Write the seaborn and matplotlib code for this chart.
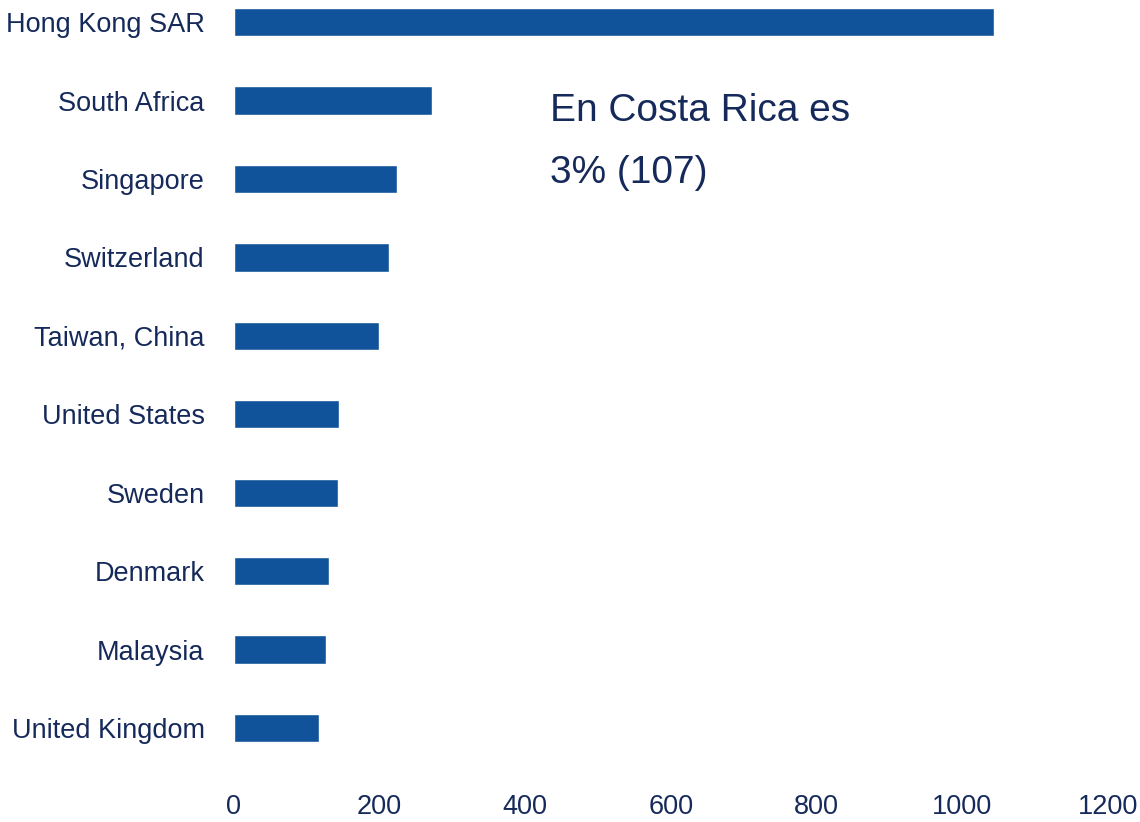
import matplotlib
matplotlib.use("Agg")
import matplotlib.pyplot as plt
import seaborn as sns
import pandas as pd

# values
countries = ['Hong Kong SAR', 'South Africa', 'Singapore', 'Switzerland', 'Taiwan, China',
             'United States', 'Sweden', 'Denmark', 'Malaysia', 'United Kingdom']
values = [1044, 272, 224, 213, 200, 144, 143, 131, 127, 117]
xticks = [0, 200, 400, 600, 800, 1000, 1200]
note_lines = ['En Costa Rica es', '3% (107)']

bar_color = '#11539a'
text_color = '#15295a'

sns.set_style('white')
plt.rcParams['font.family'] = ['Liberation Sans', 'DejaVu Sans']

df = pd.DataFrame({'country': countries, 'value': values})

fig = plt.figure(figsize=(11.4, 8.22), dpi=100)
ax = fig.add_axes([0.205, 0.0667, 0.767, 0.954])
sns.barplot(data=df, x='value', y='country', color=bar_color, width=0.36,
            saturation=1, ax=ax)

ax.set_xlim(0, 1200)
ax.set_ylim(9.5, -0.5)
ax.set_xticks(xticks)
ax.set_xticklabels([str(t) for t in xticks])
ax.set_xlabel('')
ax.set_ylabel('')
ax.tick_params(axis='x', length=0, labelsize=19.5, colors=text_color, pad=19)
ax.tick_params(axis='y', length=0, labelsize=19.5, colors=text_color, pad=21)
sns.despine(ax=ax, left=True, bottom=True)

# annotation, one text per line so the spacing can be set exactly
for i, line in enumerate(note_lines):
    fig.text(0.4825, 0.8528 - i * 0.0755, line, fontsize=28,
             color=text_color, va='baseline', ha='left')

fig.savefig('out.png', dpi=100)
